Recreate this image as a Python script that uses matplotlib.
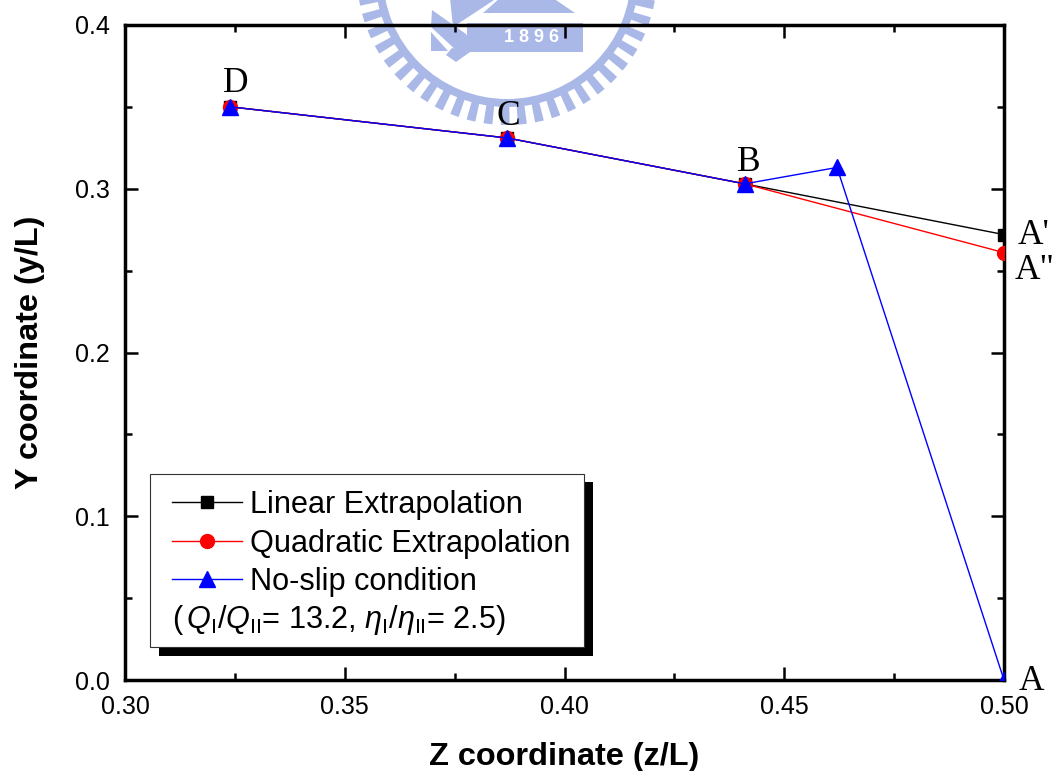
import numpy as np
import matplotlib
matplotlib.use("Agg")
import matplotlib.pyplot as plt
from matplotlib.patches import Polygon, Rectangle, Wedge
from matplotlib.transforms import Affine2D

# values
z_linear = [0.324, 0.387, 0.441, 0.500]
y_linear = [0.350, 0.331, 0.303, 0.272]
z_quad = [0.324, 0.387, 0.441, 0.500]
y_quad = [0.350, 0.331, 0.303, 0.261]
z_noslip = [0.324, 0.387, 0.441, 0.462, 0.500]
y_noslip = [0.350, 0.331, 0.303, 0.313, 0.000]

x_ticks = [0.30, 0.35, 0.40, 0.45, 0.50]
y_ticks = [0.0, 0.1, 0.2, 0.3, 0.4]
point_names = ["D", "C", "B", "A'", 'A"', "A"]

plt.rcParams["font.family"] = ["Liberation Sans", "DejaVu Sans"]
plt.rcParams["mathtext.fontset"] = "custom"
plt.rcParams["mathtext.rm"] = "Liberation Sans"
plt.rcParams["mathtext.it"] = "Liberation Sans:italic"

W, H = 1058, 771
fig = plt.figure(figsize=(W / 100, H / 100), dpi=100)
ax = fig.add_axes([125 / W, 1 - 680 / H, 879 / W, 655 / H])
px = Affine2D().scale(1, -1).translate(0, H)  # picture pixels, y going down

# school logo behind the chart
logo = "#a9b8e6"
cx, cy = 507, -25
def add_logo(patch):
    patch.set_clip_on(False)
    patch.set_zorder(0.5)
    ax.add_patch(patch)

add_logo(Wedge((cx, cy), 132, 0, 360, width=8, color=logo, lw=0, transform=px))
for ang in np.arange(-10, 190, 6.6):
    add_logo(Wedge((cx, cy), 150, ang, ang + 3.4, width=19, color=logo, lw=0, transform=px))
add_logo(Polygon([(483, 13), (575, 13), (553, -2), (500, -2)], color=logo, lw=0, transform=px))
add_logo(Polygon([(450, -2), (497, -2), (482, 8), (453, 27)], color=logo, lw=0, transform=px))
add_logo(Polygon([(467, 23), (583, 23), (583, 52), (467, 52)], color=logo, lw=0, transform=px))
add_logo(Polygon([(432, 10), (466, 34), (474, 50), (458, 52), (431, 27)], color=logo, lw=0, transform=px))
add_logo(Polygon([(431, 32), (448, 51), (431, 51)], color=logo, lw=0, transform=px))
add_logo(Polygon([(452, 48), (470, 52), (456, 62), (446, 55)], color=logo, lw=0, transform=px))
ax.text(532, 37, "1 8 9 6", color="white", fontsize=13, fontweight="bold", ha="center",
        va="center", transform=px, zorder=0.6, clip_on=False)

# the three series, markers get cut by the right border like in the original
ax.plot(z_linear, y_linear, "-s", color="black", lw=1, ms=9, label="Linear Extrapolation", zorder=3)
ax.plot(z_quad, y_quad, "-o", color="red", lw=1, ms=10, label="Quadratic Extrapolation", zorder=3.1)
ax.plot(z_noslip, y_noslip, "-^", color="blue", lw=1, ms=11, label="No-slip condition", zorder=3.2)

ax.set_xlim(0.30, 0.50)
ax.set_ylim(0.0, 0.40)
ax.set_xticks(x_ticks)
ax.set_xticklabels(["%.2f" % t for t in x_ticks])
ax.set_yticks(y_ticks)
ax.set_yticklabels(["%.1f" % t for t in y_ticks])
ax.set_xticks([0.325, 0.375, 0.425, 0.475], minor=True)
ax.set_yticks([0.05, 0.15, 0.25, 0.35], minor=True)
ax.tick_params(which="major", direction="in", length=9.5, width=1.8, top=True, right=True, labelsize=18, pad=11)
ax.tick_params(which="minor", direction="in", length=5, width=1.8, top=True, right=True)
for s in ax.spines.values():
    s.set_linewidth(2.5)
ax.set_xlabel("Z coordinate (z/L)", fontsize=23.4, fontweight="bold", labelpad=16.5)
ax.set_ylabel("Y coordinate (y/L)", fontsize=23.4, fontweight="bold", labelpad=21.5)

# point letters
letter_spots = [(0.324, 0.350, 5, 23), (0.387, 0.331, 1, 21), (0.441, 0.303, 4, 21),
                (0.500, 0.272, 30, -1), (0.500, 0.261, 31, -18), (0.500, 0.000, 27, -1)]
for name, (lx, ly, dx, dy) in zip(point_names, letter_spots):
    ax.annotate(name, (lx, ly), xytext=(dx * 0.72, dy * 0.72), textcoords="offset points",
                family="Liberation Serif", fontsize=25.5, ha="center", va="center",
                annotation_clip=False, zorder=4)

# legend box with the hard black shadow
ax.add_patch(Rectangle((159, 482), 434, 174, fc="black", ec="black", lw=0, transform=px, zorder=5))
ax.add_patch(Rectangle((149.5, 473.5), 434, 173, fc="white", ec="#333333", lw=0.8, transform=px, zorder=5.1))
leg = ax.legend(loc="upper left", bbox_to_anchor=(172, 490), bbox_transform=px, frameon=False,
                fontsize=22.1, borderpad=0, borderaxespad=0, handlelength=2.27, handletextpad=0.27,
                labelspacing=0.28)
leg.set_zorder(6)
ax.text(172, 620, r"($\,Q_{\mathrm{I}}/Q_{\mathrm{II}}$= 13.2, $\eta_{\mathrm{I}}/\eta_{\mathrm{II}}$= 2.5)",
        fontsize=22.1, va="center", ha="left", transform=px, zorder=6)

fig.savefig("out.png", dpi=100)
